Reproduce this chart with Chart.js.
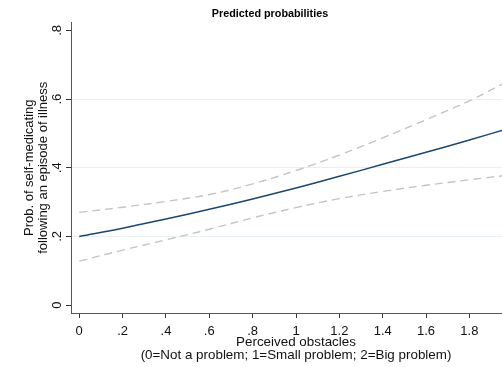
<!DOCTYPE html>
<html>
<head>
<meta charset="utf-8">
<script src="https://cdn.jsdelivr.net/npm/chart.js@4"></script>
<style>
  html, body { margin: 0; padding: 0; background: #fff; overflow: hidden; }
  /* the original graph is wider than the picture, its right side is cut off */
  #wrap { width: 502px; height: 367px; overflow: hidden; }
</style>
</head>
<body>
<div id="wrap"><canvas id="probChart" width="540" height="367"></canvas></div>
<script>
// perceived obstacles (x) and predicted probabilities
const xValues = [0, 0.2, 0.4, 0.6, 0.8, 1.0, 1.2, 1.4, 1.6, 1.8, 2.0]
const meanProb = [0.200, 0.224, 0.251, 0.279, 0.309, 0.341, 0.375, 0.410, 0.445, 0.481, 0.518]
const upperCI = [0.270, 0.285, 0.302, 0.322, 0.353, 0.392, 0.437, 0.487, 0.540, 0.595, 0.660]
const lowerCI = [0.128, 0.160, 0.190, 0.221, 0.254, 0.284, 0.310, 0.331, 0.349, 0.365, 0.380]

const xTicks = [0, 0.2, 0.4, 0.6, 0.8, 1, 1.2, 1.4, 1.6, 1.8]
const yTicks = [0, 0.2, 0.4, 0.6, 0.8]

const chartTitle = 'Predicted probabilities'

const FONT = "'Liberation Sans', Arial, sans-serif"

// stata style labels: .2 instead of 0.2
const stataLabel = v => {
    const s = String(Math.round(v * 10) / 10)
    return s.startsWith('0.') ? s.slice(1) : s
}

const toPoints = ys => xValues.map((x, i) => ({x: x, y: ys[i]}))

// title centred on the whole graph, not on the padded layout box
const graphTitle = {
    id: 'graphTitle',
    afterDraw: chart => {
        const c = chart.ctx
        c.save()
        c.font = "bold 10.8px " + FONT
        c.fillStyle = '#000'
        c.textAlign = 'center'
        c.textBaseline = 'middle'
        c.fillText(chartTitle, chart.width / 2, 14)
        c.restore()
    }
}

const ctx = document.getElementById('probChart')

new Chart(ctx, {
    type: 'line',
    data: {
        datasets: [{
            label: 'upper',
            data: toPoints(upperCI),
            borderColor: '#c4c4c4',
            borderWidth: 1.4,
            borderDash: [8, 5],
            pointRadius: 0,
            tension: 0.4,
            fill: false,
        }, {
            label: 'lower',
            data: toPoints(lowerCI),
            borderColor: '#c4c4c4',
            borderWidth: 1.4,
            borderDash: [8, 5],
            pointRadius: 0,
            tension: 0.4,
            fill: false,
        }, {
            label: 'mean',
            data: toPoints(meanProb),
            borderColor: '#1a476f',
            borderWidth: 1.5,
            pointRadius: 0,
            tension: 0.4,
            fill: false,
        }]
    },
    plugins: [graphTitle],
    options: {
        responsive: false,
        animation: false,
        layout: {padding: {top: 22.5, left: 0, bottom: 0, right: 19}},
        plugins: {
            legend: {display: false},
            tooltip: {enabled: false},
            title: {display: false},
        },
        scales: {
            x: {
                type: 'linear',
                min: -0.038,
                max: 2.038,
                afterBuildTicks: scale => { scale.ticks = xTicks.map(v => ({value: v})) },
                afterFit: scale => { scale.height = 54 },
                border: {display: true, color: '#555', width: 1},
                grid: {
                    drawOnChartArea: false,
                    drawTicks: true,
                    tickLength: 5,
                    tickColor: '#333',
                },
                ticks: {
                    autoSkip: false,
                    maxRotation: 0,
                    color: '#111',
                    padding: 6,
                    font: {family: FONT, size: 13},
                    callback: v => stataLabel(v),
                },
                title: {
                    display: true,
                    text: ['Perceived obstacles', '(0=Not a problem; 1=Small problem; 2=Big problem)'],
                    color: '#111',
                    font: {family: FONT, size: 13.4, lineHeight: 0.92},
                    padding: {top: 0, bottom: 5.8},
                }
            },
            y: {
                type: 'linear',
                min: -0.023,
                max: 0.823,
                afterBuildTicks: scale => { scale.ticks = yTicks.map(v => ({value: v})) },
                afterFit: scale => { scale.width = 71 },
                border: {display: true, color: '#555', width: 1},
                grid: {
                    color: c => (c.tick && c.tick.value > 0.1 && c.tick.value < 0.7) ? '#e8f0f2' : 'rgba(0,0,0,0)',
                    lineWidth: 1,
                    drawTicks: true,
                    tickLength: 5,
                    tickColor: '#333',
                },
                ticks: {
                    autoSkip: false,
                    minRotation: 90,
                    maxRotation: 90,
                    crossAlign: 'center',
                    color: '#111',
                    padding: 3,
                    font: {family: FONT, size: 13},
                    callback: v => stataLabel(v),
                },
                title: {
                    display: true,
                    text: ['Prob. of self-medicating', 'following an episode of illness'],
                    color: '#111',
                    font: {family: FONT, size: 13, lineHeight: 1.08},
                    padding: {top: 22, bottom: 0},
                }
            }
        }
    }
})
</script>
</body>
</html>
